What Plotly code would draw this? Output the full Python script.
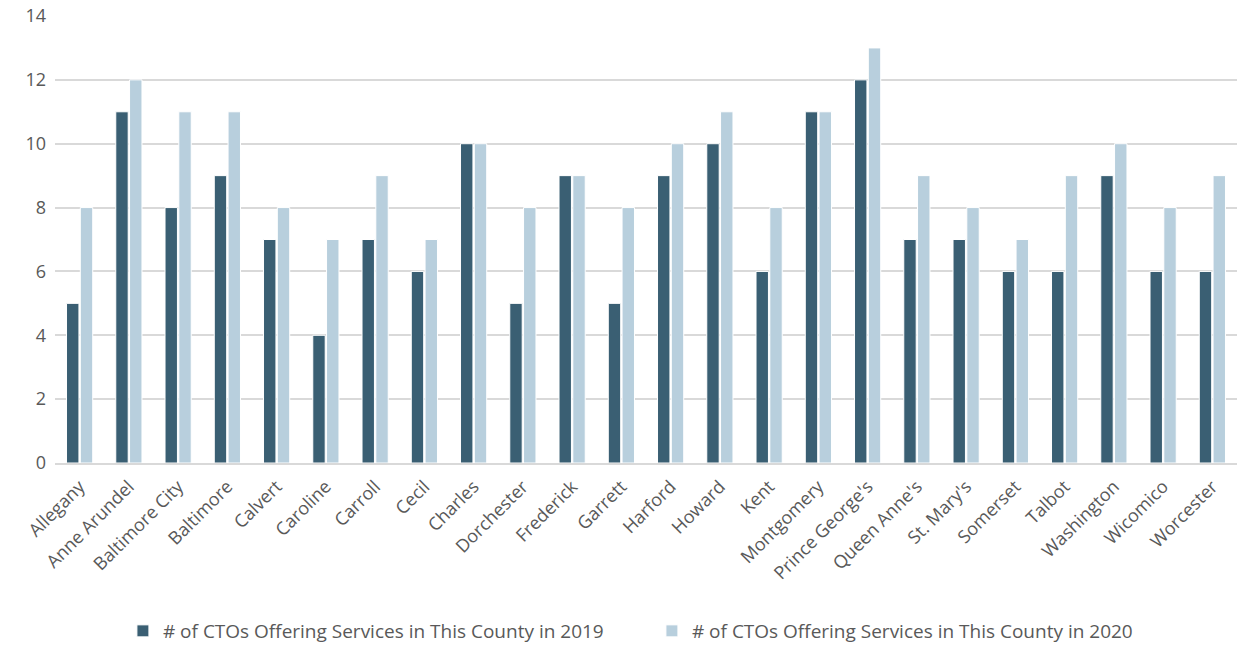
import plotly.graph_objects as go

counties = ["Allegany", "Anne Arundel", "Baltimore City", "Baltimore", "Calvert", "Caroline",
            "Carroll", "Cecil", "Charles", "Dorchester", "Frederick", "Garrett", "Harford",
            "Howard", "Kent", "Montgomery", "Prince George's", "Queen Anne's", "St. Mary's",
            "Somerset", "Talbot", "Washington", "Wicomico", "Worcester"]
ctos_2019 = [5, 11, 8, 9, 7, 4, 7, 6, 10, 5, 9, 5, 9, 10, 6, 11, 12, 7, 7, 6, 6, 9, 6, 6]
ctos_2020 = [8, 12, 11, 11, 8, 7, 9, 7, 10, 8, 9, 8, 10, 11, 8, 11, 13, 9, 8, 7, 9, 10, 8, 9]
name_2019 = "# of CTOs Offering Services in This County in 2019"
name_2020 = "# of CTOs Offering Services in This County in 2020"

font_family = "Open Sans, Liberation Sans, sans-serif"
text_color = "#595959"

fig = go.Figure()
fig.add_trace(go.Bar(x=counties, y=ctos_2019, name=name_2019,
                     marker=dict(color="#3A5F73", line=dict(color="white", width=1))))
fig.add_trace(go.Bar(x=counties, y=ctos_2020, name=name_2020,
                     marker=dict(color="#B8CFDD", line=dict(color="white", width=1))))

fig.update_layout(
    width=1243, height=648,
    margin=dict(l=55, r=6, t=16, b=185, autoexpand=False),
    paper_bgcolor="white", plot_bgcolor="white",
    barmode="group", bargap=0.44, bargroupgap=0.1,
    font=dict(family=font_family, size=18, color=text_color),
    legend=dict(orientation="h", x=0.505, xanchor="center", yref="container",
                y=17 / 648, yanchor="middle",
                font=dict(size=19, color=text_color), itemwidth=30,
                entrywidthmode="pixels", entrywidth=484),
    xaxis=dict(tickangle=-45, showgrid=False, showline=True, linecolor="#D9D9D9",
               linewidth=2, ticks="", automargin=False, ticklabelstandoff=4,
               tickfont=dict(size=18, color=text_color)),
    yaxis=dict(range=[0, 14], dtick=2, showgrid=True, gridcolor="#D9D9D9", gridwidth=1.5,
               zeroline=False, showline=False, ticks="", ticklabelstandoff=8,
               automargin=False, tickfont=dict(size=18, color=text_color)),
)

fig.write_html("out.html")
